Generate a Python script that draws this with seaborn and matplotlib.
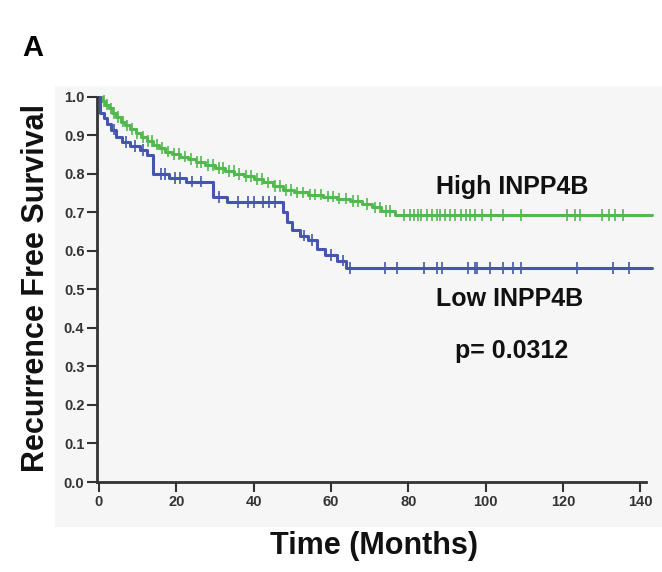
import numpy as np
import pandas as pd
import matplotlib
matplotlib.use("Agg")
import matplotlib.pyplot as plt
from matplotlib.patches import Rectangle
import seaborn as sns

# ---- data ----
high_times = [0, 0.8, 1.6, 2.5, 3.4, 4.5, 5.6, 6.8, 8.0, 9.5, 11.0, 12.5, 14.0, 15.6, 17.2,
              19.0, 21.0, 23.0, 25.0, 27.5, 30.0, 32.5, 35.0, 37.5, 40.0, 42.5, 45.0,
              47.5, 50.5, 54.0, 58.0, 61.5, 65.0, 68.0, 70.5, 73.0, 76.5, 143.0]
high_surv = [1.0, 0.99, 0.98, 0.97, 0.958, 0.948, 0.936, 0.926, 0.916, 0.905, 0.895, 0.886,
             0.876, 0.867, 0.858, 0.852, 0.845, 0.838, 0.831, 0.823, 0.815, 0.807, 0.80,
             0.795, 0.787, 0.778, 0.768, 0.758, 0.752, 0.746, 0.741, 0.736, 0.729, 0.722,
             0.713, 0.704, 0.694, 0.694]
high_censor = [1.2, 2.1, 3.0, 3.9, 5.0, 6.2, 7.3, 8.6, 9.9, 11.4, 12.8, 13.6, 15.0, 16.3,
               17.8, 19.5, 20.6, 22.2, 23.8, 25.3, 26.4, 28.1, 29.4, 31.0, 32.2, 33.6,
               34.9, 36.3, 37.9, 39.2, 40.8, 42.1, 43.7, 45.5, 46.8, 48.3, 49.6, 51.2,
               52.7, 54.5, 55.8, 57.3, 59.1, 60.6, 62.2, 63.9, 65.6, 67.1, 69.2, 71.4,
               72.6, 74.1, 75.3, 79.0, 80.5, 81.5, 82.6, 83.4, 84.8, 86.0, 87.3, 88.2,
               89.5, 90.8, 92.0, 93.5, 94.8, 96.0, 97.2, 99.0, 101.5, 104.5, 109.0,
               121.0, 123.0, 124.5, 130.0, 132.0, 133.5, 135.6]

low_times = [0, 0.4, 1.2, 2.2, 3.2, 4.5, 6.0, 8.0, 10.5, 12.5, 14.0, 18.0, 22.5, 29.5,
             33.0, 47.5, 48.5, 50.0, 52.0, 54.0, 56.5, 58.5, 61.5, 64.0, 143.0]
low_surv = [1.0, 0.958, 0.945, 0.93, 0.915, 0.895, 0.882, 0.872, 0.862, 0.85, 0.80, 0.79,
            0.78, 0.74, 0.727, 0.70, 0.675, 0.655, 0.64, 0.628, 0.605, 0.59, 0.575, 0.556,
            0.556]
low_censor = [3.8, 7.0, 9.2, 11.5, 16.0, 17.2, 19.6, 21.0, 24.0, 26.5, 31.0, 36.0, 38.5,
              40.0, 42.5, 44.0, 45.6, 53.0, 55.2, 60.0, 63.0, 65.0, 74.0, 77.0, 84.0,
              87.5, 88.8, 95.5, 97.3, 97.8, 101.0, 104.5, 107.0, 109.0, 123.7, 133.0,
              137.0]

x_ticks = [0, 20, 40, 60, 80, 100, 120, 140]
y_ticks = [0.0, 0.1, 0.2, 0.3, 0.4, 0.5, 0.6, 0.7, 0.8, 0.9, 1.0]

green = "#52b94f"
blue = "#4457ad"


def step_value(times, surv, t):
    idx = np.searchsorted(np.asarray(times), np.asarray(t), side="right") - 1
    return np.asarray(surv)[idx]


curves = pd.concat([
    pd.DataFrame({"t": high_times, "s": high_surv, "grp": "High"}),
    pd.DataFrame({"t": low_times, "s": low_surv, "grp": "Low"}),
])
cens = pd.concat([
    pd.DataFrame({"t": high_censor, "s": step_value(high_times, high_surv, high_censor), "grp": "High"}),
    pd.DataFrame({"t": low_censor, "s": step_value(low_times, low_surv, low_censor), "grp": "Low"}),
])

sns.set_theme(style="white")
plt.rcParams["font.family"] = ["Liberation Sans", "DejaVu Sans"]

W, H = 662, 572
fig = plt.figure(figsize=(W / 100, H / 100), dpi=100)
fig.patch.set_facecolor("white")

ax_l, ax_r, ax_b, ax_t = 97, 652, 482, 93
ax = fig.add_axes([ax_l / W, 1 - ax_b / H, (ax_r - ax_l) / W, (ax_b - ax_t) / H])
ax.set_facecolor("none")

# light gray panel behind the chart (drawn in figure coords, below the axes content)
panel = Rectangle((55 / W, 1 - 527 / H), (W - 55) / W, (527 - 86) / H,
                  transform=fig.transFigure, facecolor="#f6f6f6",
                  edgecolor="none", zorder=-10, clip_on=False)
ax.add_artist(panel)

pal = {"High": green, "Low": blue}
sns.lineplot(data=curves, x="t", y="s", hue="grp", palette=pal, drawstyle="steps-post",
             linewidth=2.2, legend=False, ax=ax, estimator=None, sort=False, clip_on=False)
sns.scatterplot(data=cens, x="t", y="s", hue="grp", palette=pal, marker="|", s=70,
                linewidth=1.2, legend=False, ax=ax, clip_on=False, zorder=3)

ax.set_xlim(-0.5, 143)
ax.set_ylim(0, 1.01)
ax.set_xticks(x_ticks)
ax.set_yticks(y_ticks)
ax.set_xticklabels([str(v) for v in x_ticks], fontsize=10.5, fontweight="bold", color="#333333")
ax.set_yticklabels([f"{v:.1f}" for v in y_ticks], fontsize=10.5, fontweight="bold", color="#333333")
ax.tick_params(axis="both", direction="out", length=7, width=1.5, color="#333333", pad=2,
               bottom=True, left=True)
for side in ["top", "right"]:
    ax.spines[side].set_visible(False)
for side in ["left", "bottom"]:
    ax.spines[side].set_color("#333333")
    ax.spines[side].set_linewidth(2)
ax.spines["left"].set_bounds(0, 1.0)
ax.spines["bottom"].set_bounds(-0.5, 141.5)

ax.set_xlabel("Time (Months)", fontsize=22, fontweight="bold", labelpad=16, color="#111111")
ax.set_ylabel("Recurrence Free Survival", fontsize=22, fontweight="bold", labelpad=9,
              color="#111111")

ax.text(87.2, 0.765, "High INPP4B", fontsize=18, fontweight="bold", color="#111111",
        va="center", ha="left")
ax.text(87.2, 0.475, "Low INPP4B", fontsize=18, fontweight="bold", color="#111111",
        va="center", ha="left")
ax.text(92.0, 0.34, "p= 0.0312", fontsize=18, fontweight="bold", color="#111111",
        va="center", ha="left")

fig.text(22 / W, 1 - 48 / H, "A", fontsize=21, fontweight="bold", color="black",
         va="center", ha="left")

fig.savefig("out.png", dpi=100, facecolor="white")
